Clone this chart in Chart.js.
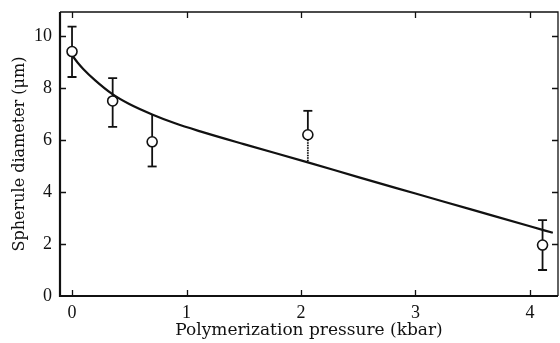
<!DOCTYPE html>
<html>
<head>
<meta charset="utf-8">
<script src="https://cdn.jsdelivr.net/npm/chart.js@4.4.0/dist/chart.umd.min.js"></script>
<style>
  html, body { margin: 0; padding: 0; background: #fff; }
</style>
</head>
<body>
<canvas id="chart" width="560" height="343"></canvas>
<script>
// measured points (kbar, µm)
const pressure = [0, 0.355, 0.70, 2.06, 4.11];
const diameter = [9.4, 7.5, 5.93, 6.2, 1.96];
const errTop = [10.36, 8.38, 6.96, 7.12, 2.92];
const errBottom = [8.42, 6.5, 4.98, 5.14, 1.0];
// fitted curve
const curveX = [0.01, 0.05, 0.1, 0.2, 0.35, 0.5, 0.7, 0.9, 1.12, 1.5, 2.06, 2.5, 3.0, 3.5, 4.0, 4.2];
const curveY = [9.2, 8.97, 8.72, 8.3, 7.77, 7.38, 6.98, 6.64, 6.33, 5.84, 5.14, 4.57, 3.94, 3.31, 2.68, 2.43];
const xTicks = [0, 1, 2, 3, 4];
const yTicks = [0, 2, 4, 6, 8, 10];

const serif = '"Liberation Serif", "Times New Roman", serif';

// error bars under the circles
const errorBars = {
    id: 'errorBars',
    beforeDatasetsDraw(chart) {
        const ctx = chart.ctx;
        const xs = chart.scales.x, ys = chart.scales.y;
        ctx.save();
        ctx.strokeStyle = '#111';
        ctx.lineWidth = 1.8;
        pressure.forEach((p, i) => {
            const x = xs.getPixelForValue(p);
            const yt = ys.getPixelForValue(errTop[i]);
            const yb = ys.getPixelForValue(errBottom[i]);
            const yc = ys.getPixelForValue(diameter[i]);
            // upper part
            ctx.beginPath();
            ctx.moveTo(x, yc); ctx.lineTo(x, yt);
            ctx.stroke();
            // lower part (dotted for the point sitting above the curve)
            ctx.setLineDash(i === 3 ? [1.5, 1] : []);
            ctx.beginPath();
            ctx.moveTo(x, yc); ctx.lineTo(x, yb);
            ctx.stroke();
            ctx.setLineDash([]);
            ctx.beginPath();
            if (i !== 2) { ctx.moveTo(x - 4.5, yt); ctx.lineTo(x + 4.5, yt); }
            if (i !== 3) { ctx.moveTo(x - 4.5, yb); ctx.lineTo(x + 4.5, yb); }
            ctx.stroke();
        });
        ctx.restore();
    }
};

// box with inward ticks on all four sides
const frame = {
    id: 'frame',
    afterDraw(chart) {
        const ctx = chart.ctx;
        const a = chart.chartArea;
        const xs = chart.scales.x, ys = chart.scales.y;
        ctx.save();
        ctx.strokeStyle = '#111';
        ctx.lineWidth = 2.2;
        ctx.beginPath();
        ctx.moveTo(a.left, a.top); ctx.lineTo(a.left, a.bottom); ctx.lineTo(a.right, a.bottom);
        ctx.stroke();
        ctx.lineWidth = 1.3;
        ctx.beginPath();
        ctx.moveTo(a.left, a.top); ctx.lineTo(a.right, a.top); ctx.lineTo(a.right, a.bottom);
        ctx.stroke();
        ctx.beginPath();
        xTicks.forEach(v => {
            const x = Math.round(xs.getPixelForValue(v)) + 0.5;
            ctx.moveTo(x, a.bottom); ctx.lineTo(x, a.bottom - 6);
            ctx.moveTo(x, a.top); ctx.lineTo(x, a.top + 6);
        });
        yTicks.forEach(v => {
            if (v === 0) return;
            const y = Math.round(ys.getPixelForValue(v)) + 0.5;
            ctx.moveTo(a.left, y); ctx.lineTo(a.left + 6, y);
            ctx.moveTo(a.right, y); ctx.lineTo(a.right - 6, y);
        });
        ctx.stroke();
        ctx.restore();
    }
};

new Chart(document.getElementById('chart'), {
    type: 'scatter',
    data: {
        datasets: [
            {
                type: 'line',
                data: curveX.map((x, i) => ({ x: x, y: curveY[i] })),
                borderColor: '#111',
                borderWidth: 2.2,
                pointRadius: 0,
                tension: 0.4,
                cubicInterpolationMode: 'monotone',
                fill: false
            },
            {
                data: pressure.map((x, i) => ({ x: x, y: diameter[i] })),
                pointRadius: 5,
                pointBackgroundColor: '#fff',
                pointBorderColor: '#111',
                pointBorderWidth: 1.6
            }
        ]
    },
    options: {
        responsive: false,
        animation: false,
        devicePixelRatio: 1,
        layout: { autoPadding: false, padding: { top: 12, right: 2, left: 0, bottom: 0 } },
        plugins: { legend: { display: false }, tooltip: { enabled: false } },
        scales: {
            x: {
                type: 'linear',
                min: -0.105,
                max: 4.245,
                afterFit(scale) {
                    scale.height = 47;
                    scale.paddingLeft = 0;
                    scale.paddingRight = 0;
                },
                afterBuildTicks(scale) { scale.ticks = xTicks.map(v => ({ value: v })); },
                grid: { display: false, drawTicks: false },
                border: { display: false },
                ticks: { color: '#111', padding: 6, font: { family: serif, size: 18 } },
                title: {
                    display: true,
                    text: 'Polymerization pressure (kbar)',
                    color: '#111',
                    padding: { top: 0, bottom: 2 },
                    font: { family: '"DejaVu Serif", serif', size: 17 }
                }
            },
            y: {
                min: 0,
                max: 10.92,
                afterFit(scale) {
                    scale.width = 60;
                    scale.paddingTop = 0;
                    scale.paddingBottom = 0;
                },
                afterBuildTicks(scale) { scale.ticks = yTicks.map(v => ({ value: v })); },
                grid: { display: false, drawTicks: false },
                border: { display: false },
                ticks: { color: '#111', padding: 8, font: { family: serif, size: 18 } },
                title: {
                    display: true,
                    text: 'Spherule diameter (μm)',
                    color: '#111',
                    padding: { top: 10, bottom: 0 },
                    font: { family: '"DejaVu Serif", serif', size: 16 }
                }
            }
        }
    },
    plugins: [errorBars, frame]
});
</script>
</body>
</html>
